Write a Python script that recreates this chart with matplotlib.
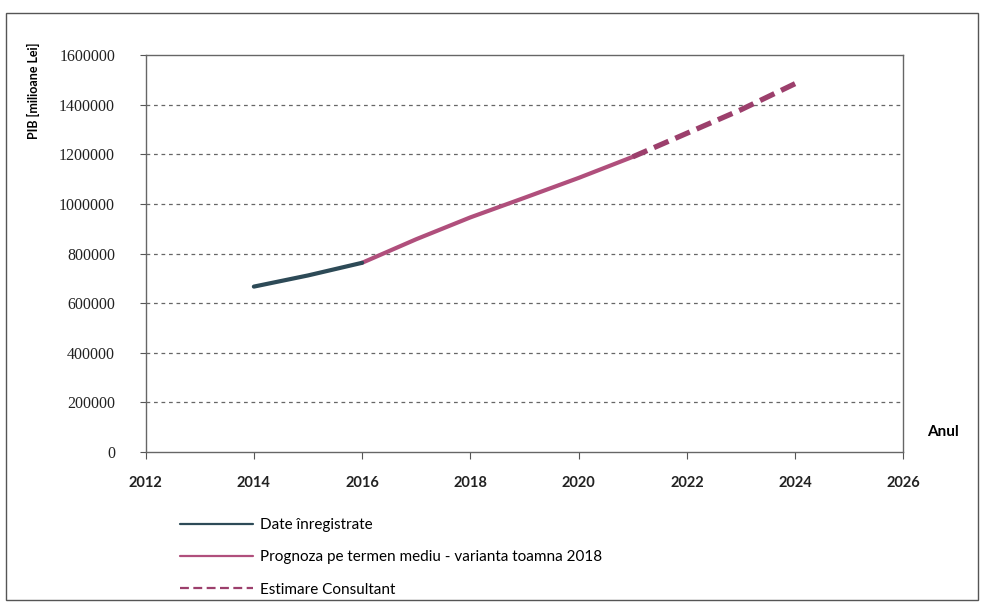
import matplotlib
matplotlib.use("Agg")
import matplotlib.pyplot as plt
import matplotlib.patches as patches

plt.rcParams['font.family'] = ['Lato', 'DejaVu Sans']

# data (milioane lei)
ani_inreg = [2014, 2015, 2016]
pib_inreg = [667000, 712000, 763000]

ani_progn = [2016, 2017, 2018, 2019, 2020, 2021]
pib_progn = [763000, 858000, 946000, 1025000, 1105000, 1190000]

ani_estim = [2021, 2022, 2023, 2024]
pib_estim = [1190000, 1285000, 1380000, 1485000]

xticks = [2012, 2014, 2016, 2018, 2020, 2022, 2024, 2026]
yticks = [0, 200000, 400000, 600000, 800000, 1000000, 1200000, 1400000, 1600000]

fig = plt.figure(figsize=(9.84, 6.06), dpi=100)
ax = fig.add_axes([0.148, 0.254, 0.770, 0.655])

l1, = ax.plot(ani_inreg, pib_inreg, color='#2d4a57', lw=3, solid_capstyle='round',
              label='Date înregistrate', zorder=4)
l2, = ax.plot(ani_progn, pib_progn, color='#b04f7c', lw=3, solid_capstyle='round',
              label='Prognoza pe termen mediu - varianta toamna 2018', zorder=3)
l3, = ax.plot(ani_estim, pib_estim, color='#9c3f6c', lw=3.8, ls=(0, (3, 1.4)),
              label='Estimare Consultant', zorder=3)

ax.set_xlim(2012, 2026)
ax.set_ylim(0, 1600000)
ax.set_xticks(xticks)
ax.set_yticks(yticks)
ax.set_xticklabels([str(x) for x in xticks])
ax.set_yticklabels([str(y) for y in yticks])
ax.tick_params(axis='x', length=5, direction='out', color='#555555', pad=12)
ax.tick_params(axis='y', length=4, direction='out', color='#555555', pad=18)
for t in ax.get_xticklabels():
    t.set_fontsize(10.5)
    t.set_fontweight('bold')
    t.set_color('#222222')
for t in ax.get_yticklabels():
    t.set_fontfamily(['Liberation Serif'])
    t.set_fontsize(11.5)
    t.set_color('#222222')

for y in yticks[1:-1]:
    ax.axhline(y, color='#666666', lw=0.9, ls=(0, (3, 3)), zorder=1)

for s in ax.spines.values():
    s.set_color('#666666')
    s.set_linewidth(1.0)

fig.text(0.034, 0.85, 'PIB [milioane Lei]', fontsize=9, fontweight='bold',
         rotation=90, ha='center', va='center')
fig.text(0.958, 0.287, 'Anul', fontsize=11, fontweight='bold', ha='center', va='center')

leg = fig.legend(handles=[l1, l2, l3], loc='upper left', bbox_to_anchor=(0.183, 0.145),
                 frameon=False, fontsize=11, handlelength=4.8, handletextpad=0.4,
                 labelspacing=1.2, borderaxespad=0, borderpad=0)
for h in leg.get_lines():
    h.set_linewidth(1.6)
leg.get_lines()[2].set_linestyle((0, (4, 2)))

fig.patches.append(patches.Rectangle((0.006, 0.01), 0.988, 0.968, transform=fig.transFigure,
                                     fill=False, edgecolor='#555555', lw=1.0))

fig.savefig('out.png', dpi=100)
